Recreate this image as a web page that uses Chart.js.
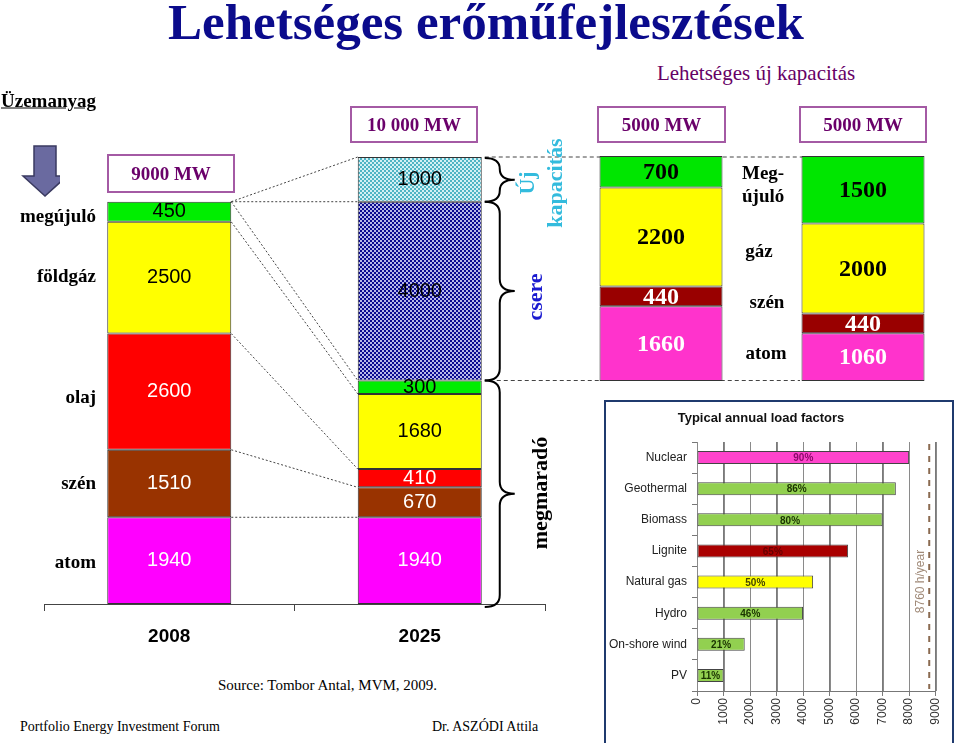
<!DOCTYPE html>
<html><head><meta charset="utf-8">
<script src="https://cdn.jsdelivr.net/npm/chart.js@4.4.1/dist/chart.umd.min.js"></script>
<style>
html,body{margin:0;padding:0;width:959px;height:743px;overflow:hidden;background:#fff;position:relative;}
canvas{position:absolute;}
.t{position:absolute;white-space:nowrap;font-family:"Liberation Serif","Times New Roman",serif;line-height:1;}
.c{transform:translate(-50%,-50%);}
.r{transform:translate(-100%,-50%);text-align:right;}
.l{transform:translate(0,-50%);}
.b{font-weight:bold;}
.box{position:absolute;box-sizing:border-box;border:2px solid #a45aa4;display:flex;align-items:center;justify-content:center;font-family:"Liberation Serif",serif;font-weight:bold;font-size:19px;color:#6a006a;}
.rot{transform:translate(-50%,-50%) rotate(-90deg);text-align:center;}
</style></head><body>

<div style="position:absolute;left:604px;top:400px;width:350px;height:400px;box-sizing:border-box;border:2px solid #1f3a6e;"></div>
<canvas id="mainChart" width="959" height="520" style="left:0;top:140px;"></canvas>
<canvas id="optChart" width="404" height="250" style="left:560px;top:140px;"></canvas>
<canvas id="lfChart" width="346" height="341" style="left:606px;top:402px;"></canvas>

<svg width="60" height="60" style="position:absolute;left:0;top:140px;">
  <polygon points="34,6 56,6 56,36 67,36 45,56 23,36 34,36" fill="#6a6aa0" stroke="#3a3a60" stroke-width="1.5"/>
</svg>

<div class="t c b" style="left:486px;top:22px;font-size:51px;color:#0b0b8c;">Lehetséges erőműfejlesztések</div>
<div class="t l b" style="left:1px;top:100px;font-size:19px;text-decoration:underline;">Üzemanyag</div>
<div class="t c" style="left:756px;top:73px;font-size:21px;color:#660066;">Lehetséges új kapacitás</div>

<div class="box" style="left:350px;top:106px;width:128px;height:37px;">10 000 MW</div>
<div class="box" style="left:597px;top:106px;width:129px;height:37px;">5000 MW</div>
<div class="box" style="left:799px;top:106px;width:128px;height:37px;">5000 MW</div>
<div class="box" style="left:107px;top:154px;width:128px;height:39px;">9000 MW</div>

<div class="t r b" style="left:96px;top:215px;font-size:19px;">megújuló</div>
<div class="t r b" style="left:96px;top:275px;font-size:19px;">földgáz</div>
<div class="t r b" style="left:96px;top:396px;font-size:19px;">olaj</div>
<div class="t r b" style="left:96px;top:482px;font-size:19px;">szén</div>
<div class="t r b" style="left:96px;top:561px;font-size:19px;">atom</div>

<div class="t l b" style="left:742px;top:184px;font-size:19px;line-height:23px;white-space:pre;">Meg-
újuló</div>
<div class="t c b" style="left:759px;top:250px;font-size:19px;">gáz</div>
<div class="t c b" style="left:767px;top:301px;font-size:19px;">szén</div>
<div class="t c b" style="left:766px;top:352px;font-size:19px;">atom</div>

<div class="t rot b" style="left:541px;top:183px;font-size:22px;line-height:28px;color:#33bbdd;white-space:pre;">Új
kapacitás</div>
<div class="t rot b" style="left:535px;top:297px;font-size:22px;color:#1a1ad0;">csere</div>
<div class="t rot b" style="left:540px;top:493px;font-size:22px;color:#000;">megmaradó</div>

<div class="t c b" style="left:761px;top:417px;font-size:13px;font-family:'Liberation Sans',Arial,sans-serif;color:#111;">Typical annual load factors</div>

<div class="t l" style="left:218px;top:685px;font-size:15px;">Source: Tombor Antal, MVM, 2009.</div>
<div class="t l" style="left:20px;top:727px;font-size:14px;">Portfolio Energy Investment Forum</div>
<div class="t l" style="left:432px;top:727px;font-size:14px;">Dr. ASZÓDI Attila</div>

<script>
// ---------- DATA ----------
const mainCategories = ['2008', '2025'];
const atom = [1940, 1940];
const szen = [1510, 670];
const olaj = [2600, 410];
const foldgaz = [2500, 1680];
const megujulo = [450, 300];
const csere = [null, 4000];
const ujKapacitas = [null, 1000];
const mainMax = 10000;

const optionCategories = ['A változat', 'B változat'];
const optAtom = [1660, 1060];
const optSzen = [440, 440];
const optGaz = [2200, 2000];
const optMegujulo = [700, 1500];
const optMax = 5000;

const lfCategories = ['Nuclear', 'Geothermal', 'Biomass', 'Lignite', 'Natural gas', 'Hydro', 'On-shore wind', 'PV'];
const lfHours = [8000, 7500, 7000, 5700, 4380, 4000, 1800, 1000];
const lfLabels = ['90%', '86%', '80%', '65%', '50%', '46%', '21%', '11%'];
const lfMax = 9000;
const lfStep = 1000;
const hoursPerYear = 8760;
const hoursLabel = '8760 h/year';

// ---------- helpers ----------
function checker(c1, c2, s) {
  const cv = document.createElement('canvas');
  cv.width = cv.height = s * 2;
  const g = cv.getContext('2d');
  g.fillStyle = c1; g.fillRect(0, 0, s * 2, s * 2);
  g.fillStyle = c2; g.fillRect(0, 0, s, s); g.fillRect(s, s, s, s);
  return g.createPattern(cv, 'repeat');
}
function brace(ctx, x, y1, y2, w) {
  const ym = (y1 + y2) / 2, h = w / 2, r = Math.min(12, (y2 - y1) / 4);
  ctx.beginPath();
  ctx.moveTo(x, y1);
  ctx.quadraticCurveTo(x + h, y1, x + h, y1 + r);
  ctx.lineTo(x + h, ym - r);
  ctx.quadraticCurveTo(x + h, ym, x + w, ym);
  ctx.quadraticCurveTo(x + h, ym, x + h, ym + r);
  ctx.lineTo(x + h, y2 - r);
  ctx.quadraticCurveTo(x + h, y2, x, y2);
  ctx.stroke();
}
const SANS = '"Liberation Sans", Arial, sans-serif';
const SERIF = '"Liberation Serif", "Times New Roman", serif';

const barLabels = {
  id: 'barLabels',
  afterDatasetsDraw(chart, args, opts) {
    const ctx = chart.ctx;
    chart.data.datasets.forEach((ds, i) => {
      const meta = chart.getDatasetMeta(i);
      meta.data.forEach((el, j) => {
        const v = ds.data[j];
        if (v == null) return;
        ctx.save();
        ctx.font = opts.font;
        ctx.fillStyle = ds.labelColor;
        ctx.textAlign = 'center';
        ctx.textBaseline = 'middle';
        ctx.fillText(String(v), el.x, (el.y + el.base) / 2 + (opts.dy || 0));
        ctx.restore();
      });
    });
  }
};

const mainDecor = {
  id: 'mainDecor',
  afterDraw(chart) {
    const ctx = chart.ctx;
    const m = i => chart.getDatasetMeta(i).data;
    ctx.save();
    ctx.strokeStyle = '#444'; ctx.lineWidth = 1; ctx.setLineDash([2, 2]);
    const seg = (x1, y1, x2, y2) => { ctx.beginPath(); ctx.moveTo(x1, y1); ctx.lineTo(x2, y2); ctx.stroke(); };
    for (let i = 0; i < 5; i++) {
      const a = m(i)[0], b = m(i)[1];
      seg(a.x + a.width / 2, a.y, b.x - b.width / 2, b.y);
    }
    const top08 = m(4)[0], c25 = m(5)[1], u25 = m(6)[1];
    seg(top08.x + top08.width / 2, top08.y, c25.x - c25.width / 2, c25.y);
    seg(top08.x + top08.width / 2, top08.y, u25.x - u25.width / 2, u25.y);
    const bx = u25.x + u25.width / 2 + 3;
    ctx.strokeStyle = '#444'; ctx.setLineDash([4, 3]);
    seg(bx, u25.y, 847, u25.y);
    seg(bx + 12, c25.base, 800, c25.base);
    ctx.setLineDash([]); ctx.strokeStyle = '#000'; ctx.lineWidth = 2;
    const y0 = chart.scales.y.getPixelForValue(0);
    brace(ctx, bx, u25.y + 1, u25.base, 30);
    brace(ctx, bx, c25.y, c25.base, 30);
    brace(ctx, bx, c25.base, y0 + 3, 30);
    ctx.restore();
  }
};

Chart.defaults.font.family = SANS;
Chart.defaults.animation = false;

const border = { borderColor: '#333', borderWidth: 1, borderSkipped: false };
new Chart(document.getElementById('mainChart'), {
  type: 'bar',
  data: {
    labels: mainCategories,
    datasets: [
      { label: 'atom', data: atom, backgroundColor: '#ff00ff', labelColor: '#fff', ...border },
      { label: 'szén', data: szen, backgroundColor: '#993300', labelColor: '#fff', ...border },
      { label: 'olaj', data: olaj, backgroundColor: '#ff0000', labelColor: '#fff', ...border },
      { label: 'földgáz', data: foldgaz, backgroundColor: '#ffff00', labelColor: '#000', ...border },
      { label: 'megújuló', data: megujulo, backgroundColor: '#00ee00', labelColor: '#000', ...border },
      { label: 'csere', data: csere, backgroundColor: checker('#0a0a90', '#b8b8e8', 2), labelColor: '#000', ...border },
      { label: 'Új kapacitás', data: ujKapacitas, backgroundColor: checker('#4fb4c4', '#d4f0f4', 2), labelColor: '#000', ...border }
    ]
  },
  options: {
    responsive: false, devicePixelRatio: 1,
    layout: { padding: { left: 44, right: 414, top: 17, bottom: 0 } },
    datasets: { bar: { categoryPercentage: 1, barPercentage: 124 / 250.5 } },
    plugins: { legend: { display: false }, tooltip: { enabled: false }, barLabels: { font: '20px ' + SANS } },
    scales: {
      x: {
        stacked: true,
        grid: { drawOnChartArea: false, drawTicks: true, tickLength: 7, color: '#444', offset: true },
        border: { display: true, color: '#444', width: 1 },
        ticks: { font: { size: 19, weight: 'bold', family: SANS }, color: '#000', padding: 14 },
        afterFit(s) { s.height = 56; }
      },
      y: { stacked: true, display: false, min: 0, max: mainMax }
    }
  },
  plugins: [barLabels, mainDecor]
});

new Chart(document.getElementById('optChart'), {
  type: 'bar',
  data: {
    labels: optionCategories,
    datasets: [
      { label: 'atom', data: optAtom, backgroundColor: '#ff33cc', labelColor: '#fff', ...border },
      { label: 'szén', data: optSzen, backgroundColor: '#990000', labelColor: '#fff', ...border },
      { label: 'gáz', data: optGaz, backgroundColor: '#ffff00', labelColor: '#000', ...border },
      { label: 'Megújuló', data: optMegujulo, backgroundColor: '#00e600', labelColor: '#000', ...border }
    ]
  },
  options: {
    responsive: false, devicePixelRatio: 1,
    layout: { padding: { left: 0, right: 0, top: 16, bottom: 9 } },
    datasets: { bar: { categoryPercentage: 1, barPercentage: 123 / 202 } },
    plugins: { legend: { display: false }, tooltip: { enabled: false }, barLabels: { font: 'bold 24px ' + SERIF, dy: 1 } },
    scales: {
      x: { stacked: true, display: false },
      y: { stacked: true, display: false, min: 0, max: optMax }
    }
  },
  plugins: [barLabels]
});

const lfDecor = {
  id: 'lfDecor',
  beforeDatasetsDraw(chart) {
    const ctx = chart.ctx, sx = chart.scales.x, a = chart.chartArea;
    ctx.save();
    ctx.strokeStyle = '#8a8a8a'; ctx.lineWidth = 1;
    sx.ticks.forEach(t => {
      const x = Math.round(sx.getPixelForValue(t.value)) + 0.5;
      ctx.beginPath(); ctx.moveTo(x, a.top); ctx.lineTo(x, a.bottom); ctx.stroke();
    });
    ctx.restore();
  },
  afterDatasetsDraw(chart) {
    const ctx = chart.ctx, meta = chart.getDatasetMeta(0);
    const txtColors = ['#8a0a6a', '#1a3300', '#1a3300', '#660000', '#444400', '#1a3300', '#1a3300', '#1a3300'];
    ctx.save();
    ctx.font = 'bold 10px ' + SANS;
    ctx.textAlign = 'center'; ctx.textBaseline = 'middle';
    meta.data.forEach((el, j) => {
      ctx.fillStyle = txtColors[j];
      ctx.fillText(lfLabels[j], (el.x + el.base) / 2, el.y + 1);
    });
    const xs = chart.scales.x.getPixelForValue(hoursPerYear);
    const a = chart.chartArea;
    ctx.strokeStyle = '#8a6a50'; ctx.lineWidth = 2; ctx.setLineDash([6, 6]);
    ctx.beginPath(); ctx.moveTo(xs, a.top + 2); ctx.lineTo(xs, a.bottom - 2); ctx.stroke();
    ctx.translate(xs - 9, (a.top + a.bottom) / 2 + 15);
    ctx.rotate(-Math.PI / 2);
    ctx.font = '12px ' + SANS; ctx.fillStyle = '#a08a78';
    ctx.fillText(hoursLabel, 0, 0);
    ctx.restore();
  }
};

new Chart(document.getElementById('lfChart'), {
  type: 'bar',
  data: {
    labels: lfCategories,
    datasets: [{
      data: lfHours,
      backgroundColor: ['#ff44cc', '#92d050', '#92d050', '#aa0000', '#ffff00', '#92d050', '#92d050', '#92d050'],
      borderColor: '#444', borderWidth: 1, borderSkipped: false,
      categoryPercentage: 1, barPercentage: 0.42
    }]
  },
  options: {
    indexAxis: 'y',
    responsive: false, devicePixelRatio: 1,
    layout: { padding: { top: 40, right: 16, left: 0, bottom: 0 } },
    plugins: { legend: { display: false }, tooltip: { enabled: false } },
    scales: {
      x: {
        min: 0, max: lfMax,
        ticks: { stepSize: lfStep, minRotation: 90, maxRotation: 90, font: { size: 12, family: SANS }, color: '#333', padding: 2, callback: v => String(v) },
        grid: { color: '#7a7a7a', lineWidth: 1, tickLength: 5, drawOnChartArea: true },
        border: { color: '#777' },
        afterFit(s) { s.height = 52; }
      },
      y: {
        grid: { drawOnChartArea: false, tickLength: 5, color: '#777' },
        border: { color: '#777' },
        ticks: { font: { size: 12, family: SANS }, color: '#222', padding: 5 },
        afterFit(s) { s.width = 91; }
      }
    }
  },
  plugins: [lfDecor]
});
</script>
</body></html>
